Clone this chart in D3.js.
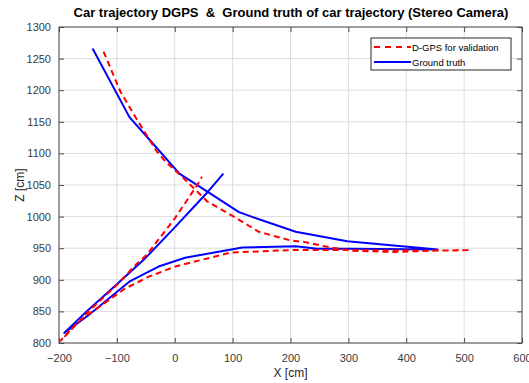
<!DOCTYPE html>
<html lang="en">
  <head>
    <meta charset="UTF-8" />
    <title>Car trajectory</title>
    <style>
      body { margin: 0; background: #fff; }
      svg { display: block; font-family: Arial, "Liberation Sans", Helvetica, sans-serif; }
    </style>
  </head>
  <body>
    <div class="chart"></div>

    <script src="https://d3js.org/d3.v7.min.js"></script>

    <script>
      // data ===========================================================
      const dgpsX = [-123, -94, -65, -31, -16, 15, 56, 102, 145, 201, 223, 259, 304, 379, 442, 511,
        442, 300, 201, 96, 1, -45, -86, -126, -167, -198, -186, -150, -100, -65, -48, 0, 41, 47];
      const dgpsZ = [1261, 1198, 1153, 1103, 1087, 1061, 1024, 1000, 976, 962, 960, 953, 946, 944, 946, 947,
        946, 947, 947, 943, 921, 905, 886, 860, 834, 803, 814, 849, 892, 926, 940, 997, 1053, 1063];

      const truthX = [-142, -78, -42, 8, 57, 111, 148, 209, 298, 454,
        303, 246, 209, 117, 18, -28, -77, -149, -191,
        -150, -100, -50, 0, 57, 84];
      const truthZ = [1266, 1157, 1120, 1068, 1039, 1007, 995, 976, 961, 948,
        949, 949, 953, 951, 935, 921, 898, 844, 816,
        852, 893, 935, 983, 1039, 1068];

      const xTicks = [-200, -100, 0, 100, 200, 300, 400, 500, 600];
      const zTicks = [800, 850, 900, 950, 1000, 1050, 1100, 1150, 1200, 1250, 1300];

      const seriesNames = ["D-GPS for validation", "Ground truth"];

      // layout =========================================================
      const W = 529, H = 383;
      const pLeft = 59, pRight = 522, pTop = 27, pBottom = 343;

      const svg = d3.select(".chart").append("svg").attr("width", W).attr("height", H);

      const x = d3.scaleLinear().domain([-200, 600]).range([pLeft, pRight]);
      const y = d3.scaleLinear().domain([800, 1300]).range([pBottom, pTop]);

      // grid
      svg.append("g")
        .selectAll("line")
        .data(xTicks)
        .enter()
        .append("line")
        .attr("x1", (d) => x(d)).attr("x2", (d) => x(d))
        .attr("y1", pTop).attr("y2", pBottom)
        .attr("stroke", "#dcdcdc").attr("stroke-width", 1);
      svg.append("g")
        .selectAll("line")
        .data(zTicks)
        .enter()
        .append("line")
        .attr("y1", (d) => y(d)).attr("y2", (d) => y(d))
        .attr("x1", pLeft).attr("x2", pRight)
        .attr("stroke", "#dcdcdc").attr("stroke-width", 1);

      // axes (ticks inward, box on)
      const axisColor = "#4d4d4d";
      const fmt = d3.format("d");
      function styleAxis(g) {
        g.select(".domain").remove();
        g.selectAll(".tick line").attr("stroke", axisColor);
        g.selectAll(".tick text").attr("fill", "#3a3a3a").style("font-size", "11px");
      }
      svg.append("g")
        .attr("transform", `translate(0,${pBottom})`)
        .call(d3.axisBottom(x).tickValues(xTicks).tickFormat(fmt).tickSize(-5).tickPadding(11))
        .call(styleAxis);
      svg.append("g")
        .attr("transform", `translate(0,${pTop})`)
        .call(d3.axisTop(x).tickValues(xTicks).tickSize(-5).tickFormat(""))
        .call(styleAxis);
      svg.append("g")
        .attr("transform", `translate(${pLeft},0)`)
        .call(d3.axisLeft(y).tickValues(zTicks).tickFormat(fmt).tickSize(-5).tickPadding(8))
        .call(styleAxis);
      svg.append("g")
        .attr("transform", `translate(${pRight},0)`)
        .call(d3.axisRight(y).tickValues(zTicks).tickSize(-5).tickFormat(""))
        .call(styleAxis);

      svg.append("rect")
        .attr("x", pLeft).attr("y", pTop)
        .attr("width", pRight - pLeft).attr("height", pBottom - pTop)
        .attr("fill", "none").attr("stroke", axisColor).attr("stroke-width", 1);

      // lines
      const line = d3.line().x((d) => x(d[0])).y((d) => y(d[1]));
      const dgps = dgpsX.map((v, i) => [v, dgpsZ[i]]);
      const truth = truthX.map((v, i) => [v, truthZ[i]]);

      svg.append("path")
        .datum(truth)
        .attr("d", line)
        .attr("fill", "none")
        .attr("stroke", "#0000ff")
        .attr("stroke-width", 2)
        .attr("stroke-linejoin", "round");

      svg.append("path")
        .datum(dgps)
        .attr("d", line)
        .attr("fill", "none")
        .attr("stroke", "#ff0000")
        .attr("stroke-width", 2)
        .attr("stroke-dasharray", "6,4");

      // title & labels
      svg.append("text")
        .attr("x", 291)
        .attr("y", 17)
        .attr("text-anchor", "middle")
        .style("font-size", "13px")
        .style("font-weight", "bold")
        .style("white-space", "pre")
        .attr("fill", "#000")
        .text("Car trajectory DGPS  &  Ground truth of car trajectory (Stereo Camera)");

      svg.append("text")
        .attr("x", (pLeft + pRight) / 2)
        .attr("y", 377)
        .attr("text-anchor", "middle")
        .style("font-size", "12px")
        .attr("fill", "#262626")
        .text("X [cm]");

      svg.append("text")
        .attr("transform", `translate(24,${(pTop + pBottom) / 2}) rotate(-90)`)
        .attr("text-anchor", "middle")
        .style("font-size", "12px")
        .attr("fill", "#262626")
        .text("Z [cm]");

      // legend
      const lg = svg.append("g").attr("transform", "translate(371,38)");
      lg.append("rect")
        .attr("width", 140).attr("height", 32)
        .attr("fill", "#fff").attr("stroke", "#262626").attr("stroke-width", 1);
      const items = lg.selectAll("g.item")
        .data(seriesNames)
        .enter()
        .append("g")
        .attr("transform", (d, i) => `translate(0,${9 + i * 15})`);
      items.append("line")
        .attr("x1", 3).attr("x2", 40)
        .attr("stroke", (d, i) => (i === 0 ? "#ff0000" : "#0000ff"))
        .attr("stroke-width", 2)
        .attr("stroke-dasharray", (d, i) => (i === 0 ? "6,5" : null));
      items.append("text")
        .attr("x", 41).attr("y", 3.5)
        .style("font-size", "9.5px")
        .attr("fill", "#000")
        .text((d) => d);
    </script>
  </body>
</html>
